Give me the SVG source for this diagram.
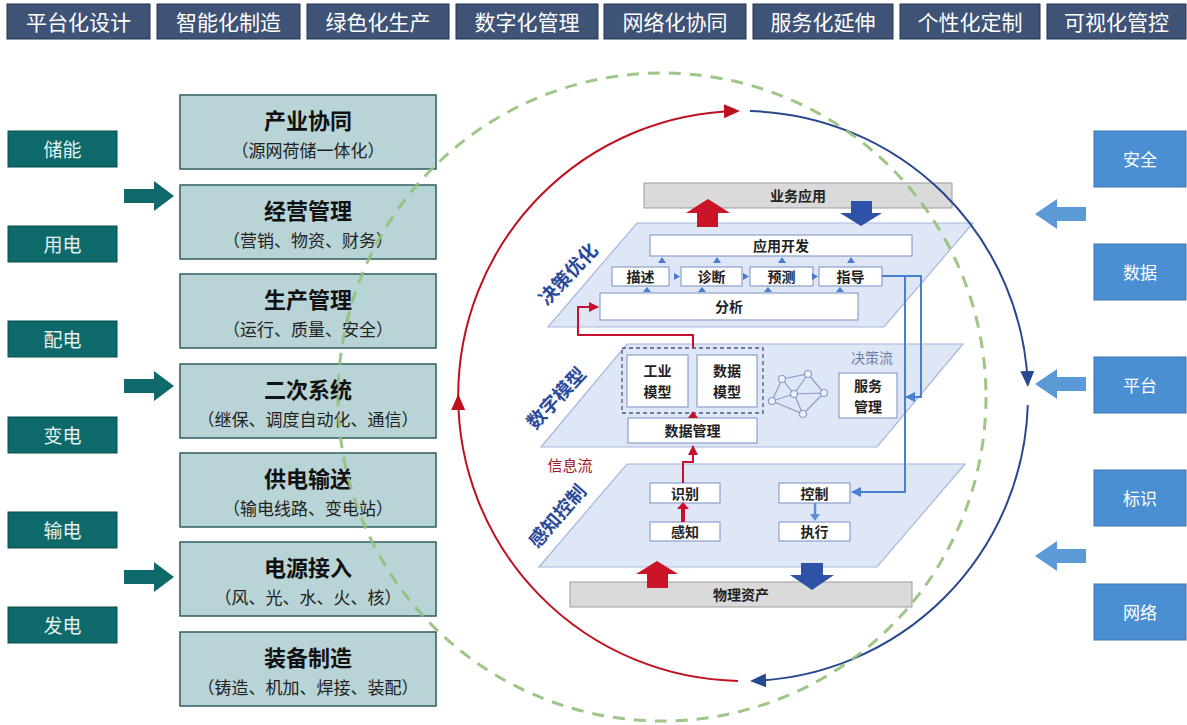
<svg xmlns="http://www.w3.org/2000/svg" width="1187" height="725" viewBox="0 0 1187 725" style="font-family:'Noto Sans CJK SC','Noto Sans',sans-serif">
<defs>
<style>
.tb{fill:#3e5376;stroke:#25354f;stroke-width:1}
.tbt{fill:#ffffff;font-size:21px;text-anchor:middle;dominant-baseline:central}
.teal{fill:#0e6a6a;stroke:#0a4d4d;stroke-width:1}
.tealt{fill:#e6f1f1;font-size:19px;text-anchor:middle;dominant-baseline:central}
.tarr{fill:#0e6a6a}
.mb{fill:#b9d4d6;stroke:#2f5d60;stroke-width:1.5}
.mt{font-size:22px;font-weight:bold;fill:#111;text-anchor:middle;dominant-baseline:central}
.ms{font-size:17px;fill:#222;text-anchor:middle;dominant-baseline:central}
.rb{fill:#4b8fd3;stroke:#3a74b2;stroke-width:1}
.rbt{fill:#ffffff;font-size:17px;text-anchor:middle;dominant-baseline:central}
.rarr{fill:#5b9ad6}
.plane{fill:#dfe6f6;stroke:#a7b6dc;stroke-width:1.2}
.ib{fill:#ffffff;stroke:#8d9fcc;stroke-width:1.2}
.it{font-size:14px;font-weight:bold;fill:#222;text-anchor:middle;dominant-baseline:central}
.bar{fill:#dadada;stroke:#9c9c9c;stroke-width:1}
.lbl{font-size:19px;font-weight:bold;fill:#2c4a9a;text-anchor:middle;dominant-baseline:central}
.sa{fill:#4a7bcc}
.redl{fill:none;stroke:#c8102e;stroke-width:2}
.bluel{fill:none;stroke:#4a7fd0;stroke-width:2}
</style>
<marker id="mRed" markerUnits="userSpaceOnUse" markerWidth="16" markerHeight="14" refX="14" refY="7" orient="auto"><path d="M0,0 L16,7 L0,14 z" fill="#c0101e"/></marker>
<marker id="mBlue" markerUnits="userSpaceOnUse" markerWidth="16" markerHeight="14" refX="14" refY="7" orient="auto"><path d="M0,0 L16,7 L0,14 z" fill="#27488f"/></marker>
<marker id="mRedS" markerUnits="userSpaceOnUse" markerWidth="10" markerHeight="10" refX="9" refY="5" orient="auto"><path d="M0,0 L10,5 L0,10 z" fill="#c8102e"/></marker>
<marker id="mBlueS" markerUnits="userSpaceOnUse" markerWidth="10" markerHeight="10" refX="9" refY="5" orient="auto"><path d="M0,0 L10,5 L0,10 z" fill="#4a7fd0"/></marker>
</defs>
<rect width="1187" height="725" fill="#ffffff"/>

<!-- top bar -->
<g id="top-bar">
<g id="t1"><rect class="tb" x="7" y="4" width="143" height="35"/><text class="tbt" x="78.5" y="21">平台化设计</text></g>
<g id="t2"><rect class="tb" x="157" y="4" width="143" height="35"/><text class="tbt" x="228.5" y="21">智能化制造</text></g>
<g id="t3"><rect class="tb" x="307" y="4" width="142" height="35"/><text class="tbt" x="378" y="21">绿色化生产</text></g>
<g id="t4"><rect class="tb" x="456" y="4" width="142" height="35"/><text class="tbt" x="527" y="21">数字化管理</text></g>
<g id="t5"><rect class="tb" x="604" y="4" width="142" height="35"/><text class="tbt" x="675" y="21">网络化协同</text></g>
<g id="t6"><rect class="tb" x="753" y="4" width="140" height="35"/><text class="tbt" x="823" y="21">服务化延伸</text></g>
<g id="t7"><rect class="tb" x="900" y="4" width="140" height="35"/><text class="tbt" x="970" y="21">个性化定制</text></g>
<g id="t8"><rect class="tb" x="1047" y="4" width="139" height="35"/><text class="tbt" x="1116.5" y="21">可视化管控</text></g>
</g>

<!-- left teal boxes -->
<g id="l-storage"><rect class="teal" x="8" y="131" width="109" height="36"/><text class="tealt" x="62.5" y="148">储能</text></g>
<g id="l-use"><rect class="teal" x="8" y="226" width="109" height="36"/><text class="tealt" x="62.5" y="243">用电</text></g>
<g id="l-dist"><rect class="teal" x="8" y="321" width="109" height="36"/><text class="tealt" x="62.5" y="338">配电</text></g>
<g id="l-sub"><rect class="teal" x="8" y="417" width="109" height="36"/><text class="tealt" x="62.5" y="434">变电</text></g>
<g id="l-trans"><rect class="teal" x="8" y="512" width="109" height="36"/><text class="tealt" x="62.5" y="529">输电</text></g>
<g id="l-gen"><rect class="teal" x="8" y="607" width="109" height="36"/><text class="tealt" x="62.5" y="624">发电</text></g>

<!-- middle column boxes -->
<g id="m1"><rect class="mb" x="180" y="95" width="256" height="74"/><text class="mt" x="308" y="119">产业协同</text><text class="ms" x="308" y="149">（源网荷储一体化）</text></g>
<g id="m2"><rect class="mb" x="180" y="185" width="256" height="74"/><text class="mt" x="308" y="209">经营管理</text><text class="ms" x="308" y="239">（营销、物资、财务）</text></g>
<g id="m3"><rect class="mb" x="180" y="274" width="256" height="74"/><text class="mt" x="308" y="298">生产管理</text><text class="ms" x="308" y="328">（运行、质量、安全）</text></g>
<g id="m4"><rect class="mb" x="180" y="364" width="256" height="74"/><text class="mt" x="308" y="388">二次系统</text><text class="ms" x="308" y="418">（继保、调度自动化、通信）</text></g>
<g id="m5"><rect class="mb" x="180" y="453" width="256" height="74"/><text class="mt" x="308" y="477">供电输送</text><text class="ms" x="308" y="507">（输电线路、变电站）</text></g>
<g id="m6"><rect class="mb" x="180" y="542" width="256" height="74"/><text class="mt" x="308" y="566">电源接入</text><text class="ms" x="308" y="596">（风、光、水、火、核）</text></g>
<g id="m7"><rect class="mb" x="180" y="632" width="256" height="74"/><text class="mt" x="308" y="656">装备制造</text><text class="ms" x="308" y="686">（铸造、机加、焊接、装配）</text></g>

<!-- right blue boxes -->
<g id="r-sec"><rect class="rb" x="1094" y="131" width="92" height="56"/><text class="rbt" x="1140" y="158">安全</text></g>
<g id="r-data"><rect class="rb" x="1094" y="244" width="92" height="56"/><text class="rbt" x="1140" y="271">数据</text></g>
<g id="r-plat"><rect class="rb" x="1094" y="357" width="92" height="56"/><text class="rbt" x="1140" y="384">平台</text></g>
<g id="r-id"><rect class="rb" x="1094" y="470" width="92" height="56"/><text class="rbt" x="1140" y="497">标识</text></g>
<g id="r-net"><rect class="rb" x="1094" y="584" width="92" height="56"/><text class="rbt" x="1140" y="611">网络</text></g>

<!-- center: business app bar -->
<g id="c-biz"><rect class="bar" x="644" y="183" width="308" height="25"/><text class="it" x="798" y="195" font-size="15">业务应用</text></g>

<!-- plane 1 -->
<g id="c-plane1">
<polygon class="plane" points="637,223 973,223 884,327 548,327"/>
<text class="lbl" transform="translate(567,273) rotate(-47)">决策优化</text>
</g>
<g id="c-appdev"><rect class="ib" x="650" y="235" width="262" height="21"/><text class="it" x="781" y="245">应用开发</text></g>
<g id="c-desc"><rect class="ib" x="612" y="267" width="57" height="19"/><text class="it" x="640.5" y="276">描述</text></g>
<g id="c-diag"><rect class="ib" x="681" y="267" width="61" height="19"/><text class="it" x="711.5" y="276">诊断</text></g>
<g id="c-pred"><rect class="ib" x="750" y="267" width="63" height="19"/><text class="it" x="781.5" y="276">预测</text></g>
<g id="c-guide"><rect class="ib" x="819" y="267" width="63" height="19"/><text class="it" x="850.5" y="276">指导</text></g>
<g id="c-anal"><rect class="ib" x="600" y="293" width="258" height="27"/><text class="it" x="729" y="306">分析</text></g>

<!-- plane 2 -->
<g id="c-plane2">
<polygon class="plane" points="627,344 963,344 877,447 541,447"/>
<text class="lbl" transform="translate(555,397) rotate(-47)">数字模型</text>
<text x="872" y="357" font-size="14" fill="#6d7fa6" text-anchor="middle" dominant-baseline="central">决策流</text>
<rect x="622" y="348" width="141" height="65" fill="none" stroke="#4a5a80" stroke-width="1.3" stroke-dasharray="4 3"/>
</g>
<g id="c-indmodel"><rect class="ib" x="627" y="355" width="61" height="52"/><text class="it" x="657.5" y="370" font-size="15">工业</text><text class="it" x="657.5" y="391" font-size="15">模型</text></g>
<g id="c-datamodel"><rect class="ib" x="697" y="355" width="60" height="52"/><text class="it" x="727" y="370" font-size="15">数据</text><text class="it" x="727" y="391" font-size="15">模型</text></g>
<g id="c-datamgmt"><rect class="ib" x="628" y="418" width="129" height="25"/><text class="it" x="692.5" y="430">数据管理</text></g>
<g id="c-svcmgmt"><rect class="ib" x="839" y="373" width="58" height="45"/><text class="it" x="868" y="385" font-size="15">服务</text><text class="it" x="868" y="406" font-size="15">管理</text></g>
<g id="c-network" stroke="#8a9cc6" stroke-width="1.2" fill="none">
<path d="M782,379 L808,374 L824,393 L803,414 L772,401 Z M782,379 L794,394 L808,374 M794,394 L824,393 M794,394 L772,401 M794,394 L803,414"/>
<g fill="#eef2fb"><circle cx="782" cy="379" r="3.5"/><circle cx="808" cy="374" r="3.5"/><circle cx="794" cy="394" r="3.5"/><circle cx="772" cy="401" r="3.5"/><circle cx="824" cy="393" r="3.5"/><circle cx="803" cy="414" r="3.5"/></g>
</g>
<text id="c-infoflow" x="570" y="464" font-size="15" fill="#a3192b" text-anchor="middle" dominant-baseline="central">信息流</text>

<!-- plane 3 -->
<g id="c-plane3">
<polygon class="plane" points="627,464 965,464 877,567 539,567"/>
<text class="lbl" transform="translate(556,515) rotate(-49)">感知控制</text>
</g>
<g id="c-recog"><rect class="ib" x="650" y="483" width="70" height="20"/><text class="it" x="685" y="492.5">识别</text></g>
<g id="c-sense"><rect class="ib" x="650" y="522" width="70" height="19"/><text class="it" x="685" y="531">感知</text></g>
<g id="c-ctrl"><rect class="ib" x="779" y="483" width="71" height="20"/><text class="it" x="814.5" y="492.5">控制</text></g>
<g id="c-exec"><rect class="ib" x="779" y="522" width="71" height="19"/><text class="it" x="814.5" y="531">执行</text></g>
<g id="c-asset"><rect class="bar" x="570" y="582" width="342" height="25"/><text class="it" x="741" y="594" font-size="15">物理资产</text></g>

<!-- connectors -->
<g id="connectors">
<!-- teal arrows -->
<path class="tarr" d="M124,189 H154 V181 L174,196 L154,211 V203 H124 Z"/>
<path class="tarr" d="M124,379 H154 V371 L174,386 L154,401 V393 H124 Z"/>
<path class="tarr" d="M124,570 H154 V562 L174,577 L154,592 V584 H124 Z"/>
<!-- right blue arrows -->
<path class="rarr" d="M1086,207 H1057 V199 L1035,214 L1057,229 V221 H1086 Z"/>
<path class="rarr" d="M1086,377 H1057 V369 L1035,384 L1057,399 V391 H1086 Z"/>
<path class="rarr" d="M1086,549 H1057 V541 L1035,556 L1057,571 V563 H1086 Z"/>
<!-- big vertical arrows -->
<path d="M697,227 V213 H686 L708,199 L730,213 H718 V227 Z" fill="#cc1428"/>
<path d="M851,201 V213 H840 L861,226 L882,213 H872 V201 Z" fill="#2d52a6"/>
<path d="M647,588 V574 H636 L657,561 L678,574 H668 V588 Z" fill="#cc1428"/>
<path d="M801,563 V575 H790 L812,590 L834,575 H823 V563 Z" fill="#2d52a6"/>
<!-- small arrows plane 1 -->
<g class="sa">
<path d="M658,263 L662,257 L666,263 Z"/><path d="M713,263 L717,257 L721,263 Z"/><path d="M778,263 L782,257 L786,263 Z"/><path d="M847,263 L851,257 L855,263 Z"/>
<path d="M643,292 L647,287 L651,292 Z"/><path d="M698,292 L702,287 L706,292 Z"/><path d="M764,292 L768,287 L772,292 Z"/><path d="M836,292 L840,287 L844,292 Z"/>
<path d="M674,273 L680,276.5 L674,280 Z"/><path d="M743,273 L749,276.5 L743,280 Z"/><path d="M812,273 L818,276.5 L812,280 Z"/>
</g>
<!-- red info flow lines -->
<path class="redl" d="M693,348 V335 H578 V307 H598" marker-end="url(#mRedS)"/>
<path d="M688,418 L693,411 L698,418 Z" fill="#c8102e"/>
<path class="redl" d="M683,483 V462 H693 V446" marker-end="url(#mRedS)"/>
<path d="M683,522 V506" stroke="#c8102e" stroke-width="4" fill="none"/>
<path d="M677,509 L683,502 L689,509 Z" fill="#c8102e"/>
<!-- blue decision flow lines -->
<path class="bluel" d="M882,276 H921 V397 H906" marker-end="url(#mBlueS)"/>
<path class="bluel" d="M905,276 V492 H852" marker-end="url(#mBlueS)"/>
<path d="M815,503 V516" stroke="#5b8fd6" stroke-width="2.5" fill="none"/>
<path d="M810,514 L815,521 L820,514 Z" fill="#5b8fd6"/>
<!-- circular arcs -->
<path d="M738,680.9 A285,285 0 0 1 458.2,396" fill="none" stroke="#c0101e" stroke-width="2" marker-end="url(#mRed)"/>
<path d="M458.2,396 A285,285 0 0 1 738,111" fill="none" stroke="#c0101e" stroke-width="2" marker-end="url(#mRed)"/>
<path d="M750,111.1 A285,285 0 0 1 1027.8,385" fill="none" stroke="#27488f" stroke-width="2" marker-end="url(#mBlue)"/>
<path d="M1027.8,405 A285,285 0 0 1 752,680.9" fill="none" stroke="#27488f" stroke-width="2" marker-end="url(#mBlue)"/>
<!-- green dashed ring -->
<circle cx="662" cy="397" r="324" fill="none" stroke="#93c07a" stroke-width="3" stroke-dasharray="12 9" opacity="0.9"/>
</g>
</svg>
